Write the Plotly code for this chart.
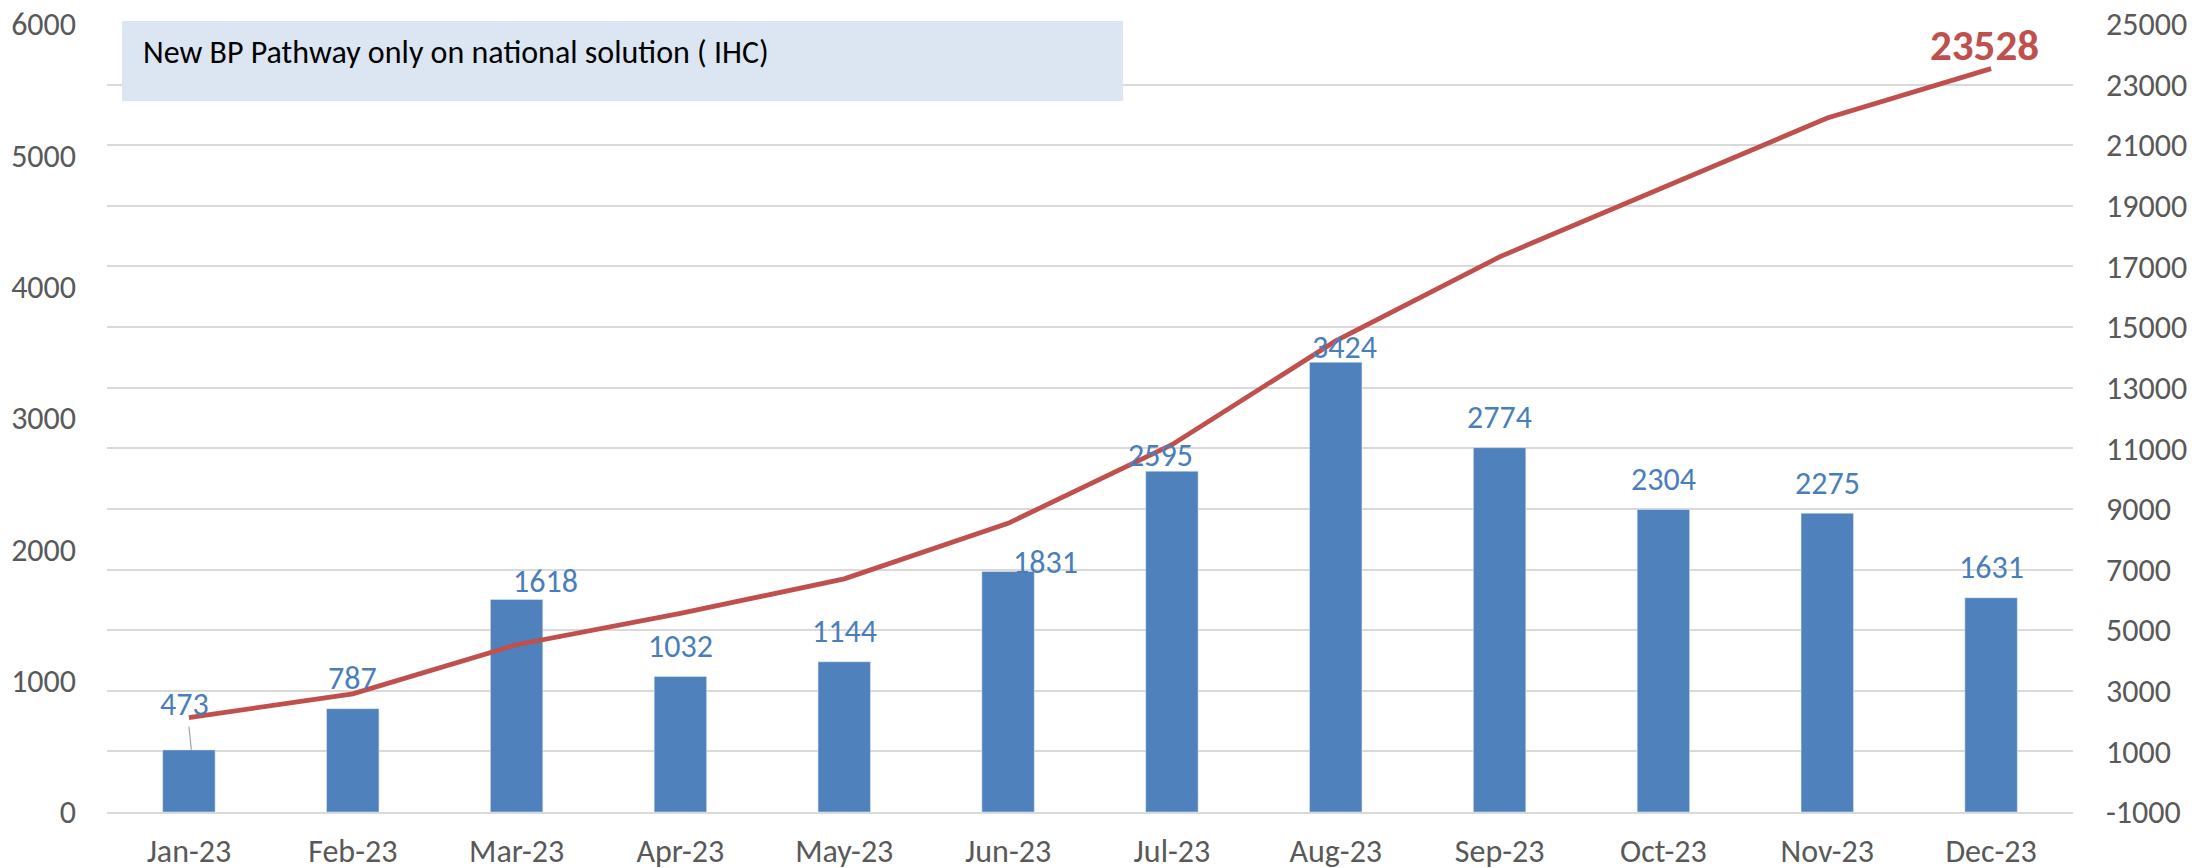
import plotly.graph_objects as go

months = ["Jan-23", "Feb-23", "Mar-23", "Apr-23", "May-23", "Jun-23",
          "Jul-23", "Aug-23", "Sep-23", "Oct-23", "Nov-23", "Dec-23"]
monthly = [473, 787, 1618, 1032, 1144, 1831, 2595, 3424, 2774, 2304, 2275, 1631]
cumulative = [2113, 2900, 4518, 5550, 6694, 8525, 11120, 14544, 17318, 19622, 21897, 23528]
left_ticks = [0, 1000, 2000, 3000, 4000, 5000, 6000]
right_ticks = [-1000, 1000, 3000, 5000, 7000, 9000, 11000, 13000, 15000,
               17000, 19000, 21000, 23000, 25000]
title_text = "New BP Pathway only on national solution ( IHC)"

# label offsets (pixels) for the monthly data labels
label_dx = [-4, 0, 29, 0, 0, 37, -11, 9, 0, 0, 0, 0]
label_dy = [45, 30, 18, 30, 30, 9, 16, 15, 30, 30, 30, 30]

FONT = "Calibri, Carlito, Lato, Liberation Sans, sans-serif"
GREY = "#595959"
BLUE = "#4F81BD"
RED = "#C0504D"
TS = 32

# page offset of the figure inside the html body (browser default margin)
OFF = 8
W, H = 2206, 868
# plot area in page pixels: x 107..2073, y 24..812
L = 107 - OFF
T = 24 - OFF
R = W - (2073 - OFF)
B = H - (812 - OFF)
PW, PH = W - L - R, H - T - B


def px(xp):
    return (xp - OFF - L) / PW


def py(yp):
    return 1 - (yp - OFF - T) / PH


fig = go.Figure()
fig.add_trace(go.Bar(x=months, y=monthly, marker_color=BLUE, width=0.32,
                     yaxis="y", showlegend=False))
fig.add_trace(go.Scatter(x=months, y=cumulative, mode="lines",
                         line=dict(color=RED, width=4.8), yaxis="y2",
                         showlegend=False))

annotations = []
for m, v, dx, dy in zip(months, monthly, label_dx, label_dy):
    annotations.append(dict(x=m, y=v, xref="x", yref="y", text=str(v),
                            showarrow=False, xshift=dx, yshift=dy,
                            yanchor="middle",
                            font=dict(family=FONT, size=TS, color="#4A7EBB")))
annotations.append(dict(x=months[-1], y=cumulative[-1], xref="x", yref="y2",
                        text="<b>%d</b>" % cumulative[-1], showarrow=False,
                        xshift=-7, yshift=23, yanchor="middle",
                        font=dict(family=FONT, size=43, color=RED)))
annotations.append(dict(x=px(141), y=py(52), xref="paper", yref="paper",
                        text=title_text, showarrow=False,
                        xanchor="left", yanchor="middle",
                        font=dict(family=FONT, size=32, color="#000000")))

fig.update_layout(
    width=W, height=H,
    margin=dict(l=L, r=R, t=T, b=B, autoexpand=False),
    paper_bgcolor="white", plot_bgcolor="white",
    font=dict(family=FONT, size=TS, color=GREY),
    xaxis=dict(type="category", showgrid=False, showline=True,
               linecolor="#D9D9D9", linewidth=2, ticks="", automargin=False,
               ticklabeloverflow="allow",
               tickfont=dict(size=TS, color=GREY), ticklabelstandoff=10),
    yaxis=dict(range=[0, 6000], tickvals=left_ticks,
               ticktext=[str(v) for v in left_ticks], showgrid=False,
               zeroline=False, showline=False, ticks="", automargin=False,
               ticklabeloverflow="allow",
               tickfont=dict(size=TS, color=GREY), ticklabelstandoff=30),
    yaxis2=dict(range=[-1000, 25000], tickvals=right_ticks,
                ticktext=[str(v) for v in right_ticks], overlaying="y",
                side="right", showgrid=True, gridcolor="#D9D9D9", gridwidth=2,
                zeroline=False, showline=False, ticks="", automargin=False,
                ticklabeloverflow="allow",
                tickfont=dict(size=TS, color=GREY), ticklabelstandoff=32),
    annotations=annotations,
)

fig.add_shape(type="rect", xref="paper", yref="paper",
              x0=px(122), x1=px(1123), y0=py(101), y1=py(21),
              fillcolor="#DCE6F2", line=dict(width=0), layer="above")
fig.add_shape(type="line", xref="x", yref="y",
              x0=0, x1=0.015, y0=650, y1=473,
              line=dict(color="#A6A6A6", width=1.2))

fig.write_html("out.html")
